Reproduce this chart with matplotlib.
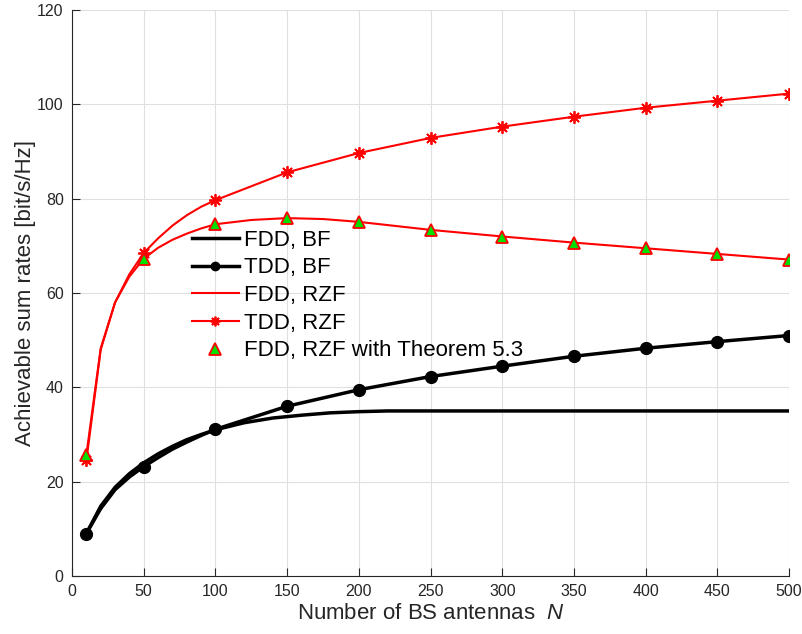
import numpy as np
import matplotlib
matplotlib.use("Agg")
import matplotlib.pyplot as plt

# Data
N_dense = [10, 20, 30, 40, 50, 60, 70, 80, 90, 100, 125, 150, 175, 200,
           250, 300, 350, 400, 450, 500]
fdd_rzf = [25.7, 48.3, 58.0, 63.5, 67.3, 69.6, 71.3, 72.6, 73.7, 74.6, 75.5,
           75.9, 75.7, 75.1, 73.4, 72.0, 70.7, 69.5, 68.3, 67.1]

N_fdd_bf = [10, 20, 30, 40, 50, 60, 70, 80, 90, 100, 120, 140, 160, 180, 200,
            220, 250, 300, 350, 400, 450, 500]
fdd_bf = [9.0, 14.8, 18.8, 21.7, 24.0, 25.9, 27.5, 28.9, 30.0, 31.0, 32.5,
          33.5, 34.1, 34.6, 34.85, 35.0, 35.0, 35.0, 35.0, 35.0, 35.0, 35.0]

N_tdd = [10, 20, 30, 40, 50, 60, 70, 80, 90, 100, 150, 200, 250, 300, 350,
         400, 450, 500]
tdd_bf = [9.0, 14.3, 18.3, 21.0, 23.2, 25.1, 26.9, 28.4, 29.8, 31.1, 36.0,
          39.5, 42.3, 44.5, 46.6, 48.3, 49.7, 51.0]
tdd_rzf = [24.5, 48.0, 58.0, 64.0, 68.5, 71.6, 74.3, 76.5, 78.3, 79.7, 85.6,
           89.7, 92.9, 95.3, 97.4, 99.3, 100.8, 102.3]
tdd_marks = [0, 4, 9, 10, 11, 12, 13, 14, 15, 16, 17]

N_thm = [10, 50, 100, 150, 200, 250, 300, 350, 400, 450, 500]
thm_rzf = [25.7, 67.3, 74.7, 76.0, 75.0, 73.3, 71.9, 70.6, 69.5, 68.3, 67.1]

plt.rcParams["font.family"] = ["Liberation Sans", "DejaVu Sans"]
plt.rcParams["mathtext.fontset"] = "custom"
plt.rcParams["mathtext.it"] = "Liberation Sans:italic"

fig = plt.figure(figsize=(8.03, 6.34), dpi=100)
ax = fig.add_axes([0.0897, 0.0915, 0.893, 0.8925])

ax.plot(N_fdd_bf, fdd_bf, color='k', linewidth=2.5, label='FDD, BF')
ax.plot(N_tdd, tdd_bf, color='k', linewidth=2.5, marker='o', markersize=8.5,
        markevery=tdd_marks, label='TDD, BF')
ax.plot(N_dense, fdd_rzf, color='r', linewidth=1.5, label='FDD, RZF')
ax.plot(N_tdd, tdd_rzf, color='r', linewidth=1.5, marker=(8, 2, 0),
        markersize=9, markeredgewidth=1.3, markevery=tdd_marks,
        label='TDD, RZF')
ax.plot(N_thm, thm_rzf, linestyle='none', marker='^', markersize=9,
        markerfacecolor='#00e000', markeredgecolor='r', markeredgewidth=1.3,
        label='FDD, RZF with Theorem 5.3')

ax.set_xlim(0, 500)
ax.set_ylim(0, 120)
ax.set_xticks(np.arange(0, 501, 50))
ax.set_yticks(np.arange(0, 121, 20))
ax.grid(color='#e0e0e0', linewidth=0.8)
ax.set_axisbelow(True)
for side in ['top', 'right']:
    ax.spines[side].set_visible(False)
for side in ['left', 'bottom']:
    ax.spines[side].set_color('#262626')
    ax.spines[side].set_linewidth(0.8)
ax.tick_params(direction='in', length=6, width=0.8, colors='#262626',
               labelsize=11.5, pad=6)

ax.set_xlabel('Number of BS antennas  $N$', fontsize=16, color='#262626',
              labelpad=3)
ax.set_ylabel('Achievable sum rates [bit/s/Hz]', fontsize=16, color='#262626',
              labelpad=1)

leg = ax.legend(loc='upper left', bbox_to_anchor=(0.1674, 0.612),
                frameon=False, fontsize=16, handlelength=2.1,
                labelspacing=0.3, handletextpad=0.25, borderpad=0,
                borderaxespad=0)
# legend markers are drawn smaller than the plot markers
for h, ms in zip(leg.legend_handles, [0, 6, 0, 7, 9]):
    if ms:
        h.set_markersize(ms)

plt.savefig('out.png', dpi=100)
